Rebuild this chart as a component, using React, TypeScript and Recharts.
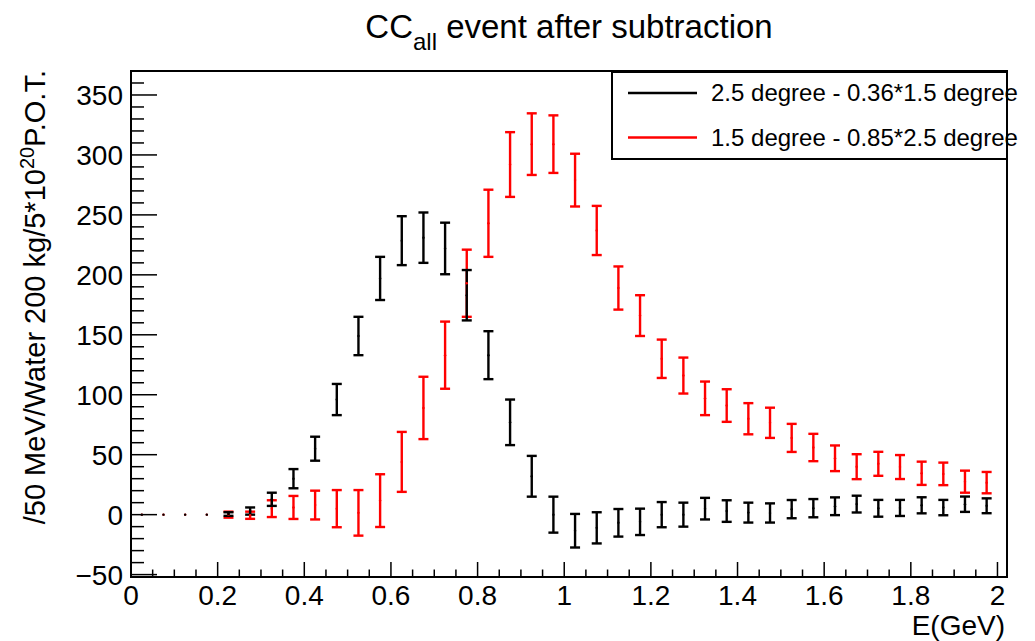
import { ComposedChart, ErrorBar, ReferenceArea, Scatter, XAxis, YAxis } from 'recharts';

// bin centres, 50 MeV bins
const energy = [
  0.025, 0.075, 0.125, 0.175, 0.225, 0.275, 0.325, 0.375, 0.425, 0.475,
  0.525, 0.575, 0.625, 0.675, 0.725, 0.775, 0.825, 0.875, 0.925, 0.975,
  1.025, 1.075, 1.125, 1.175, 1.225, 1.275, 1.325, 1.375, 1.425, 1.475,
  1.525, 1.575, 1.625, 1.675, 1.725, 1.775, 1.825, 1.875, 1.925, 1.975,
];

// 2.5 degree - 0.36*1.5 degree
const blackValues = [
  0, 0, 0, 0, 0.5, 3, 12.8, 30, 55, 96,
  149, 197, 228.5, 231, 222, 183, 133, 77, 32, 0,
  -13.4, -11, -6.8, -6, 0, 0, 5, 3, 1.7, 1.4,
  4.6, 5.4, 7, 8.8, 5.3, 5.6, 7.8, 5.9, 8.7, 7.4,
];
const blackErrors = [
  0, 0, 0, 0, 1.5, 3, 5.5, 8, 10, 13,
  16, 18, 20.4, 21, 21.5, 21, 20, 19, 17, 15,
  14, 13, 11.5, 11, 10.5, 10, 9, 9, 8.3, 8,
  7.6, 7.6, 7.4, 7, 7, 6.7, 6.7, 6.4, 6.4, 6.2,
];

// 1.5 degree - 0.85*2.5 degree
const redValues = [
  0, 0, 0, 0, 0, -0.5, 5, 6, 8, 5,
  1.5, 11.7, 44, 89, 133, 193, 243, 292, 309, 309,
  279, 237, 189, 166, 130, 116, 97, 91, 80, 76.6,
  64, 56, 47, 40, 42.4, 39.7, 34.5, 34, 27.5, 26.7,
];
const redErrors = [
  0, 0, 0, 0, 2.5, 3, 7, 9.6, 12, 15.5,
  19, 22, 25, 26, 28, 28, 28, 27, 25.7, 24,
  22, 20.5, 18, 17, 16, 15, 14, 13.6, 13, 12.6,
  11.7, 11.4, 10.7, 10.4, 10, 10, 9.7, 9.4, 9.2, 8.9,
];

const xMajorTicks = [0, 0.2, 0.4, 0.6, 0.8, 1, 1.2, 1.4, 1.6, 1.8, 2];
const xMajorLabels = ['0', '0.2', '0.4', '0.6', '0.8', '1', '1.2', '1.4', '1.6', '1.8', '2'];
const yMajorTicks = [-50, 0, 50, 100, 150, 200, 250, 300, 350];
const yMajorLabels = ['\u221250', '0', '50', '100', '150', '200', '250', '300', '350'];

const xMinorTicks = Array.from({ length: 41 }, (_, i) => +(i * 0.05).toFixed(2));
const yMinorTicks = Array.from({ length: 42 }, (_, i) => -50 + i * 10);

const legendLabels = ['2.5 degree - 0.36*1.5 degree', '1.5 degree - 0.85*2.5 degree'];

const blackPoints = energy.map((x, i) => ({ x, y: blackValues[i], err: blackErrors[i] }));
const redPoints = energy.map((x, i) => ({ x, y: redValues[i], err: redErrors[i] }));

const FONT = '"Liberation Sans", Arial, Helvetica, sans-serif';
const X_DOMAIN: [number, number] = [0, 2.022];
const Y_DOMAIN: [number, number] = [-52, 370];

function XTick(props: any) {
  const { x, y, payload } = props;
  const idx = xMajorTicks.findIndex((t) => Math.abs(t - payload.value) < 1e-6);
  const major = idx >= 0;
  return (
    <g>
      <line x1={x} x2={x} y1={y} y2={y - (major ? 15 : 7.5)} stroke="#000" strokeWidth={1.5} />
      {major && (
        <text x={x} y={y + 28} textAnchor="middle" fontSize={28} fontFamily={FONT} fill="#000">
          {xMajorLabels[idx]}
        </text>
      )}
    </g>
  );
}

function YTick(props: any) {
  const { x, y, payload } = props;
  const idx = yMajorTicks.indexOf(payload.value);
  const major = idx >= 0;
  return (
    <g>
      <line x1={x} x2={x + (major ? 26 : 13)} y1={y} y2={y} stroke="#000" strokeWidth={1.5} />
      {major && (
        <text x={x - 8} y={y + 10} textAnchor="end" fontSize={28} fontFamily={FONT} fill="#000">
          {yMajorLabels[idx]}
        </text>
      )}
    </g>
  );
}

const dot = (color: string) => (p: any) => <circle cx={p.cx} cy={p.cy} r={1.2} fill={color} />;

export default function App() {
  return (
    <div style={{ position: 'absolute', left: 0, top: 0, width: 1035, height: 641, background: '#fff' }}>
      <ComposedChart width={1035} height={641} margin={{ top: 71, right: 28, bottom: 34, left: 71 }}>
        <XAxis
          type="number"
          dataKey="x"
          domain={X_DOMAIN}
          ticks={xMinorTicks}
          interval={0}
          tickSize={0}
          tickMargin={0}
          height={30}
          allowDataOverflow
          axisLine={{ stroke: '#000', strokeWidth: 2 }}
          tickLine={false}
          tick={<XTick />}
        />
        <YAxis
          type="number"
          dataKey="y"
          domain={Y_DOMAIN}
          ticks={yMinorTicks}
          interval={0}
          tickSize={0}
          tickMargin={0}
          width={60}
          allowDataOverflow
          axisLine={{ stroke: '#000', strokeWidth: 2 }}
          tickLine={false}
          tick={<YTick />}
        />
        <ReferenceArea x1={X_DOMAIN[0]} x2={X_DOMAIN[1]} y1={Y_DOMAIN[0]} y2={Y_DOMAIN[1]} fill="none" stroke="#000" strokeWidth={2} />
        <Scatter data={redPoints} dataKey="y" shape={dot('#ff0000')} isAnimationActive={false}>
          <ErrorBar dataKey="err" direction="y" width={5} stroke="#ff0000" strokeWidth={2.4} isAnimationActive={false} />
        </Scatter>
        <Scatter data={blackPoints} dataKey="y" shape={dot('#000')} isAnimationActive={false}>
          <ErrorBar dataKey="err" direction="y" width={5} stroke="#000" strokeWidth={2.4} isAnimationActive={false} />
        </Scatter>
      </ComposedChart>
      <svg
        width={1035}
        height={641}
        style={{ position: 'absolute', left: 0, top: 0, pointerEvents: 'none' }}
        fontFamily={FONT}
      >
        <text x={569} y={38} textAnchor="middle" fontSize={33} fill="#000">
          CC
          <tspan fontSize={24} dy={12}>all</tspan>
          <tspan dy={-12}> event after subtraction</tspan>
        </text>
        <text transform="translate(45, 70) rotate(-90)" textAnchor="end" fontSize={29} fill="#000">
          /50 MeV/Water 200 kg/5*10
          <tspan fontSize={20} dy={-11}>20</tspan>
          <tspan dy={11}>P.O.T.</tspan>
        </text>
        <text x={1005} y={635} textAnchor="end" fontSize={28} fill="#000">
          E(GeV)
        </text>
        <rect x={612} y={72} width={395} height={87} fill="#fff" stroke="#000" strokeWidth={2} />
        <line x1={628} x2={697} y1={93} y2={93} stroke="#000" strokeWidth={2.5} />
        <line x1={628} x2={697} y1={137.5} y2={137.5} stroke="#ff0000" strokeWidth={2.5} />
        <text x={711} y={101} fontSize={24} fill="#000">{legendLabels[0]}</text>
        <text x={711} y={146} fontSize={24} fill="#000">{legendLabels[1]}</text>
      </svg>
    </div>
  );
}
